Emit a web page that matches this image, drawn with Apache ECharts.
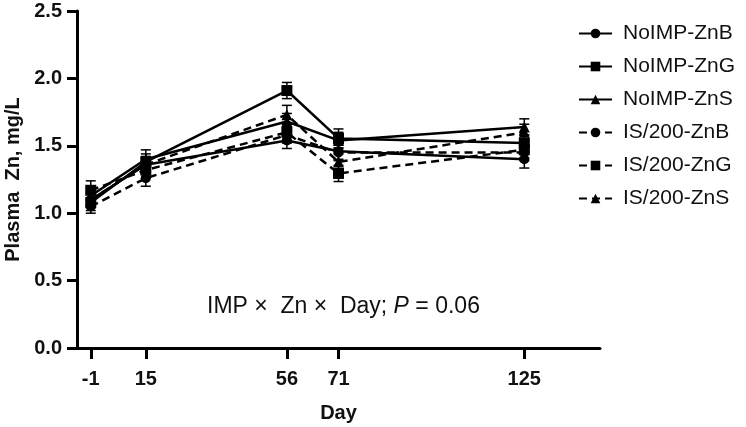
<!DOCTYPE html>
<html>
<head>
<meta charset="utf-8">
<script src="https://cdn.jsdelivr.net/npm/echarts@6/dist/echarts.min.js"></script>
<style>html,body{margin:0;padding:0;background:#fff}#c{width:746px;height:427px}</style>
</head>
<body>
<div id="c"></div>
<script>
var days = [-1, 15, 56, 71, 125];
var xTicks = [-1, 15, 56, 71, 125];
var seriesNames = ['NoIMP-ZnB', 'NoIMP-ZnG', 'NoIMP-ZnS', 'IS/200-ZnB', 'IS/200-ZnG', 'IS/200-ZnS'];
var noImpZnB = [1.10, 1.36, 1.54, 1.46, 1.40];
var noImpZnG = [1.08, 1.38, 1.91, 1.555, 1.52];
var noImpZnS = [1.13, 1.40, 1.68, 1.54, 1.64];
var isZnB = [1.05, 1.26, 1.58, 1.45, 1.45];
var isZnG = [1.17, 1.32, 1.60, 1.295, 1.47];
var isZnS = [1.10, 1.36, 1.73, 1.38, 1.60];
var errNoImpZnB = [0.05, 0.06, 0.06, 0.06, 0.065];
var errNoImpZnG = [0.06, 0.06, 0.06, 0.07, 0.06];
var errNoImpZnS = [0.06, 0.07, 0.06, 0.06, 0.06];
var errIsZnB = [0.05, 0.06, 0.06, 0.06, 0.06];
var errIsZnG = [0.07, 0.06, 0.06, 0.06, 0.06];
var errIsZnS = [0.06, 0.06, 0.07, 0.06, 0.06];

var values = [noImpZnB, noImpZnG, noImpZnS, isZnB, isZnG, isZnS];
var errs = [errNoImpZnB, errNoImpZnG, errNoImpZnS, errIsZnB, errIsZnG, errIsZnS];
var symbols = ['circle', 'rect', 'triangle', 'circle', 'rect', 'triangle'];
var sizes = [10, 11, 11, 10, 11, 11];
var FONT = 'Liberation Sans, Arial';

var series = [];
for (var i = 0; i < 6; i++) {
  var errData = days.map(function (d, j) { return [d, values[i][j] - errs[i][j], values[i][j] + errs[i][j]]; });
  series.push({
    type: 'custom',
    name: seriesNames[i] + '_err',
    data: errData,
    z: 3,
    silent: true,
    renderItem: function (params, api) {
      var x = api.value(0);
      var lo = api.coord([x, api.value(1)]);
      var hi = api.coord([x, api.value(2)]);
      var hw = 5;
      var st = { stroke: '#000', lineWidth: 1.5 };
      return {
        type: 'group',
        children: [
          { type: 'line', shape: { x1: lo[0], y1: lo[1], x2: hi[0], y2: hi[1] }, style: st },
          { type: 'line', shape: { x1: lo[0] - hw, y1: lo[1], x2: lo[0] + hw, y2: lo[1] }, style: st },
          { type: 'line', shape: { x1: hi[0] - hw, y1: hi[1], x2: hi[0] + hw, y2: hi[1] }, style: st }
        ]
      };
    }
  });
}
for (var k = 0; k < 6; k++) {
  series.push({
    type: 'line',
    name: seriesNames[k],
    data: days.map(function (d, j) { return [d, values[k][j]]; }),
    symbol: symbols[k],
    symbolSize: sizes[k],
    showAllSymbol: true,
    z: 4,
    itemStyle: { color: '#000', borderWidth: 0 },
    lineStyle: { color: '#000', width: 2.5, type: k < 3 ? 'solid' : [8, 5] }
  });
}

var chart = echarts.init(document.getElementById('c'), null, { renderer: 'canvas' });
chart.setOption({
  animation: false,
  backgroundColor: '#fff',
  grid: { left: 77, right: 146, top: 11, bottom: 79, containLabel: false, outerBoundsMode: 'none' },
  legend: {
    data: seriesNames,
    orient: 'vertical',
    left: 578,
    top: 23,
    padding: 0,
    itemWidth: 33,
    itemHeight: 12,
    itemGap: 12,
    textStyle: { fontFamily: FONT, fontSize: 21, color: '#111', padding: [0, 0, 0, 6] }
  },
  xAxis: {
    type: 'value',
    min: -5,
    max: 147,
    name: 'Day',
    nameLocation: 'middle',
    nameGap: 55,
    nameTextStyle: { fontFamily: FONT, fontWeight: 'bold', fontSize: 20, color: '#111' },
    splitLine: { show: false },
    axisLine: { onZero: false, lineStyle: { color: '#000', width: 3 } },
    axisTick: { show: true, customValues: xTicks, length: 11, lineStyle: { color: '#000', width: 3 } },
    axisLabel: { customValues: xTicks, margin: 21, fontFamily: FONT, fontWeight: 'bold', fontSize: 20, color: '#111' }
  },
  yAxis: {
    type: 'value',
    min: 0,
    max: 2.5,
    interval: 0.5,
    name: 'Plasma  Zn, mg/L',
    nameLocation: 'middle',
    nameGap: 38,
    nameTextStyle: { fontFamily: FONT, fontWeight: 'bold', fontSize: 20, color: '#111' },
    splitLine: { show: false },
    axisLine: { show: true, onZero: false, lineStyle: { color: '#000', width: 3 } },
    axisTick: { show: true, length: 10, lineStyle: { color: '#000', width: 3 } },
    axisLabel: { margin: 15, fontFamily: FONT, fontWeight: 'bold', fontSize: 20, color: '#111',
      formatter: function (v) { return v.toFixed(1); } }
  },
  graphic: [{
    type: 'text',
    left: 207,
    top: 295,
    style: {
      text: '{n|IMP ×  Zn ×  Day; }{i|P}{n| = 0.06}',
      rich: {
        n: { fontFamily: FONT, fontSize: 23, fill: '#111' },
        i: { fontFamily: FONT, fontSize: 23, fontStyle: 'italic', fill: '#111' }
      }
    }
  }],
  series: series
});
</script>
</body>
</html>
